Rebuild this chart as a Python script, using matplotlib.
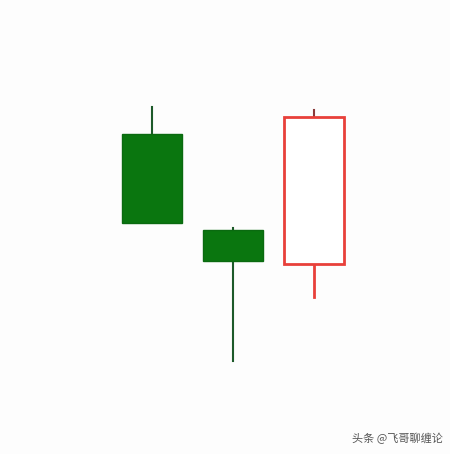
import matplotlib.pyplot as plt
from matplotlib.patches import Rectangle

plt.rcParams['font.family'] = ['Noto Sans CJK SC', 'DejaVu Sans']

# candle data (price units)
opens = [320, 224, 190]
closes = [231, 193, 337]
highs = [347, 226, 344]
lows = [231, 93, 157]
watermark = "头条 @飞哥聊缠论"

up_color = '#e8403a'
down_color = '#0a760f'
down_wick = '#1d5a2a'

fig = plt.figure(figsize=(4.5, 4.54), dpi=100)
fig.patch.set_facecolor('#fdfdfd')
ax = fig.add_axes([0, 0, 1, 1])
ax.set_facecolor('#fdfdfd')

width = 0.75
for i, (o, c, h, l) in enumerate(zip(opens, closes, highs, lows)):
    top, bottom = max(o, c), min(o, c)
    if c >= o:
        ax.add_patch(Rectangle((i - width / 2, bottom), width, top - bottom,
                               facecolor='white', edgecolor=up_color, linewidth=2, zorder=2))
        ax.plot([i, i], [top, h], color='#8a3a3a', linewidth=1.5, zorder=1)
        ax.plot([i, i], [l, bottom], color=up_color, linewidth=2, zorder=1)
    else:
        ax.add_patch(Rectangle((i - width / 2, bottom), width, top - bottom,
                               facecolor=down_color, edgecolor='#0a6a10', linewidth=1, zorder=2))
        ax.plot([i, i], [top, h], color=down_wick, linewidth=1.5, zorder=1)
        ax.plot([i, i], [l, bottom], color=down_wick, linewidth=1.5, zorder=1)

ax.set_xlim(-152 / 81, 298 / 81)
ax.set_ylim(0, 454)
ax.axis('off')

fig.text(0.985, 0.035, watermark, ha='right', va='center', fontsize=8, color='#555555')

fig.savefig('out.png', dpi=100, facecolor=fig.get_facecolor())
